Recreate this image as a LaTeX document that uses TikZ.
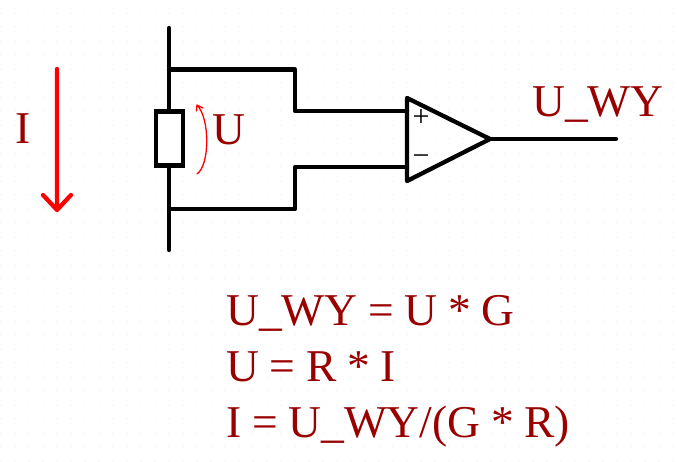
\documentclass[tikz,border=0pt]{standalone}
\usepackage{fontspec}
\setmainfont[WordSpace=0.94]{Liberation Serif}
\definecolor{labelred}{HTML}{990000}
\tikzset{
    wire/.style={line width=4.3pt, line cap=round, line join=round},
    label/.style={text=labelred, font=\fontsize{45.5}{45.5}\selectfont, inner sep=0pt, anchor=base west},
    sign/.style={font=\fontsize{30}{30}\selectfont, inner sep=0pt},
    boxshape/.style={draw, line width=4.3pt, fill=white, minimum width=27pt, minimum height=54pt, inner sep=0pt},
}
\begin{document}
\begin{tikzpicture}[x=1pt, y=-1pt]
            \useasboundingbox (0,0) rectangle (677,461);

            % faint grid of the drawing sheet
            \foreach \gx in {0,...,48} {
                \foreach \gy in {1,...,33} {
                    \fill [black!10] (\gx*14+1,\gy*14-1) circle (.7pt);
                }
            }

            % bus and resistor
            \coordinate (bustop) at (169,28);
            \coordinate (busbottom) at (169,250);
            \draw [wire] (bustop) -- (busbottom);
            \node [boxshape] (resistor) at (169.5,138.5) {};

            % wires to the amplifier
            \coordinate (tapplus) at (169,69.5);
            \coordinate (bendplus) at (295,69.5);
            \coordinate (inplus) at (295,111);
            \coordinate (tapminus) at (169,209);
            \coordinate (bendminus) at (295,209);
            \coordinate (inminus) at (295,167);
            \coordinate (ampplus) at (407,111);
            \coordinate (ampminus) at (407,167);
            \draw [wire] (tapplus) -- (bendplus) -- (inplus) -- (ampplus);
            \draw [wire] (tapminus) -- (bendminus) -- (inminus) -- (ampminus);

            % amplifier
            \coordinate (amptop) at (407,98);
            \coordinate (ampbottom) at (407,181);
            \coordinate (amptip) at (490,139);
            \coordinate (outend) at (616,139);
            \draw [wire] (amptop) -- (amptip) -- (ampbottom) -- cycle;
            \draw [wire] (amptip) -- (outend);
            \node [sign] (plus) at (421,118) {+};
            \node [sign] (minus) at (421,160) {\char"2212};

            % current and voltage arrows
            \coordinate (itop) at (57,69);
            \coordinate (ibottom) at (57,210);
            \draw [red, line width=4.3pt, line cap=round, line join=round]
                (itop) -- (ibottom) (43,195) -- (ibottom) -- (71,195);
            \coordinate (utop) at (197,105);
            \coordinate (ubottom) at (197,174);
            \draw [red, line width=1.3pt, line cap=round, line join=round]
                (ubottom) .. controls (210,165) and (210,118) .. (utop)
                (utop) -- (196.5,111) (utop) -- (203,108);

            % texts
            \node [label] (ilabel) at (15,143) {I};
            \node [label] (ulabel) at (212,144) {U};
            \node [label] (outlabel) at (532,116) {U\_WY};
            \node [label] (eqone) at (226,325) {U\_WY = U * G};
            \node [label] (eqtwo) at (226,381) {U = R * I};
            \node [label] (eqthree) at (226,437) {I = U\_WY/(G * R)};
        \end{tikzpicture}
\end{document}
